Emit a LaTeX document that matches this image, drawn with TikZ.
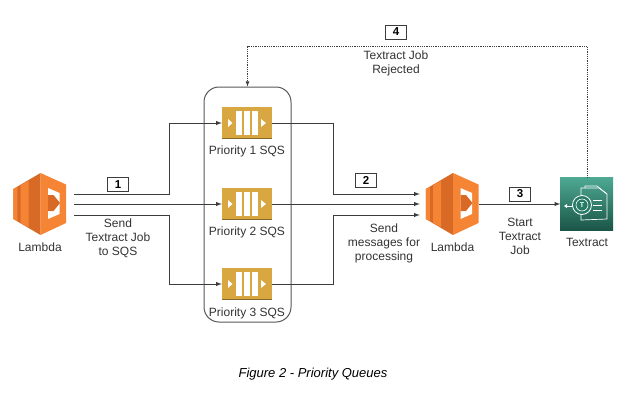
\documentclass[tikz,border=0pt]{standalone}
\usepackage{fontspec}
\setmainfont{Liberation Sans}
\usetikzlibrary{arrows}
\definecolor{lineclr}{HTML}{3C3C3C}
\definecolor{textclr}{HTML}{333333}
\definecolor{lambdalight}{HTML}{F58534}
\definecolor{lambdadark}{HTML}{D86A26}
\definecolor{sqsclr}{HTML}{D9A741}
\definecolor{sqsdark}{HTML}{876929}
\definecolor{textractclr}{HTML}{2F9A80}
\tikzstyle{arrow}=[->,>=latex,lineclr,line width=1pt]
\tikzstyle{dasharrow}=[->,>=latex,lineclr,line width=0.8pt,densely dotted]
\tikzstyle{label}=[align=center,text=textclr,font=\fontsize{12}{14}\selectfont,inner sep=0pt]
\tikzstyle{stepbox}=[draw=lineclr,line width=1pt,fill=white,minimum width=21pt,minimum height=14pt,inner sep=0pt,font=\fontsize{11.5}{12}\bfseries\selectfont]
\tikzstyle{iconbox}=[inner sep=0pt,minimum height=32pt]
\tikzset{
  lambdaicon/.pic={
    \fill[lambdadark] (-26.7,-15) -- (0.5,-31) -- (0.5,31) -- (-26.7,15) -- cycle;
    \fill[lambdalight] (-26.7,-15) -- (-22.7,-17) -- (-22.7,17) -- (-26.7,15) -- cycle;
    \fill[lambdalight] (-19.5,-19) -- (-11.5,-23) -- (-11.5,23) -- (-19.5,19) -- cycle;
    \fill[lambdalight] (0.5,-31) -- (26,-19.5) -- (26,19) -- (0.5,31) -- cycle;
    \fill[white] (8,-16) -- (19.5,-11) -- (19.5,10) -- (8,15) -- cycle;
    \fill[lambdadark] (8,-9) -- (13.5,-9) -- (20,-1) -- (13.5,7) -- (8,7) -- cycle;
  },
  sqsicon/.pic={
    \fill[sqsclr] (-25,-16) rectangle (25,16);
    \fill[sqsdark] (-25,14.5) rectangle (25,16);
    \foreach \x in {-11,-3,5}
      \fill[white] (\x,-12) rectangle ++(6,24);
    \fill[white] (-19,-4) -- (-14.5,0) -- (-19,4) -- cycle;
    \fill[white] (14,-4) -- (19,0) -- (14,4) -- cycle;
  },
  textracticon/.pic={
    \shade[top color=textractclr!85!white,bottom color=textractclr!55!black] (-27,-27) rectangle (26,26.5);
    \draw[white,line width=0.7pt] (-6,-8) -- (-6,-16) -- (12,-16) -- (20,-10) -- (20,15) -- (-6,16) -- (-6,10);
    \draw[white,line width=0.7pt] (-2,-16) -- (-2,-18) -- (10,-18) -- (20,-10);
    \foreach \y in {-4,1,6}
      \draw[white,line width=0.7pt] (6,\y) -- (15,\y);
    \draw[white,line width=0.8pt,fill=textractclr!80!black] (-5,1) circle (9.5);
    \draw[white,line width=0.6pt] (-5,1) circle (6);
    \node[white,inner sep=0pt,font=\fontsize{7}{7}\bfseries\selectfont] (tglyph) at (-5,1) {T};
    \draw[white,line width=0.7pt] (-14,2) -- (-21,2);
    \fill[white] (-23,2) -- (-20,0) -- (-20,4) -- cycle;
  }
}

\begin{document}
\begin{tikzpicture}[x=1pt,y=-1pt]
      \useasboundingbox (0,0) rectangle (624,413);
      \fill[white] (0,0) rectangle (624,413);
      % group of queues
      \node[draw=lineclr!85!white,line width=1pt,rounded corners=15pt,minimum width=87pt,minimum height=235pt,inner sep=0pt] at (247.5,204.5) (group) {};
      % icons
      \pic at (40,204) {lambdaicon};
      \pic at (247,123) {sqsicon};
      \pic at (247,204) {sqsicon};
      \pic at (247,284) {sqsicon};
      \pic at (452.5,204) {lambdaicon};
      \pic at (587,204) {textracticon};
      \node[iconbox,minimum width=52pt] at (40,204) (lambdaa) {};
      \node[iconbox,minimum width=50pt] at (247,123) (sqsa) {};
      \node[iconbox,minimum width=50pt] at (247,204) (sqsb) {};
      \node[iconbox,minimum width=50pt] at (247,284) (sqsc) {};
      \node[iconbox,minimum width=53pt] at (452.5,204) (lambdab) {};
      \node[iconbox,minimum width=53pt,minimum height=53pt] at (587,204) (textract) {};
      % connectors
      \draw[arrow] ([xshift=8pt,yshift=10pt]lambdaa.east) -- ++(95,0) |- (sqsa.west);
      \draw[arrow] ([xshift=8pt]lambdaa.east) -- (sqsb.west);
      \draw[arrow] ([xshift=8pt,yshift=-11pt]lambdaa.east) -- ++(95,0) |- (sqsc.west);
      \draw[arrow] (sqsa.east) -- ++(61,0) |- ([xshift=-6pt,yshift=10pt]lambdab.west);
      \draw[arrow] (sqsb.east) -- ([xshift=-6pt]lambdab.west);
      \draw[arrow] (sqsc.east) -- ++(61,0) |- ([xshift=-6pt,yshift=-11pt]lambdab.west);
      \draw[arrow] (lambdab.east) -- (textract.west);
      \draw[dasharrow] (textract.north) -- ++(0,-131) -| (group.north);
      % numbers
      \node[stepbox] at (118,184.5) (one) {1};
      \node[stepbox] at (366,180) (two) {2};
      \node[stepbox] at (520,194) (three) {3};
      \node[stepbox] at (396,32) (four) {4};
      % labels
      \node[label] at (40,247) (lambdaatext) {Lambda};
      \node[label] at (247,151) (sqsatext) {Priority 1 SQS};
      \node[label] at (247,232) (sqsbtext) {Priority 2 SQS};
      \node[label] at (247,313) (sqsctext) {Priority 3 SQS};
      \node[label] at (452.5,247) (lambdabtext) {Lambda};
      \node[label] at (587,242) (textracttext) {Textract};
      \node[label] at (118,238) (sendtext) {Send\\Textract Job\\to SQS};
      \node[label] at (384,243) (messagetext) {Send\\messages for\\processing};
      \node[label] at (520,236) (starttext) {Start\\Textract\\Job};
      \node[label] at (396,63) (rejecttext) {Textract Job\\Rejected};
      \node[label,text=black,font=\fontsize{13}{14}\itshape\selectfont] at (313,374) (caption) {Figure 2 - Priority Queues};
    \end{tikzpicture}
\end{document}
